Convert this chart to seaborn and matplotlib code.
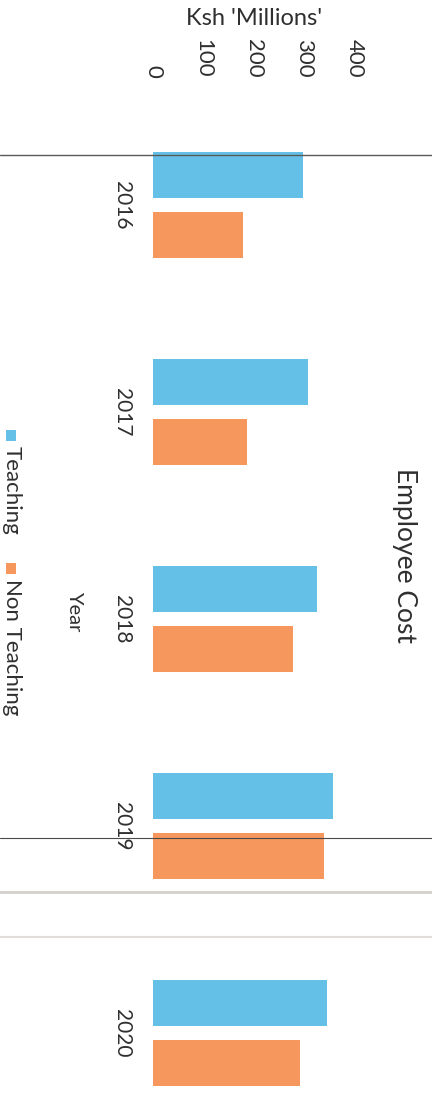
import matplotlib
matplotlib.use("Agg")
import matplotlib.pyplot as plt
from matplotlib.lines import Line2D
from matplotlib.patches import Rectangle
import seaborn as sns
import pandas as pd

# --- data -------------------------------------------------------------
years = ["2016", "2017", "2018", "2019", "2020"]
series = ["Teaching", "Non Teaching"]
teaching = [298, 307, 325, 356, 345]
non_teaching = [178, 187, 278, 339, 291]
value_ticks = [0, 100, 200, 300, 400]

colors = {"Teaching": "#65C0E8", "Non Teaching": "#F6985E"}

df = pd.DataFrame({
    "Year": years * 2,
    "Cost": teaching + non_teaching,
    "Staff": [series[0]] * len(years) + [series[1]] * len(years),
})

# --- style ------------------------------------------------------------
sns.set_theme(style="white")
plt.rcParams["font.family"] = ["Lato", "DejaVu Sans"]
TXT = "#2f2f2f"

W, H = 432, 1107
fig = plt.figure(figsize=(W / 100, H / 100), dpi=100)

# page is printed sideways: value axis runs left->right, years run top->bottom
ax_left, ax_right, ax_top = 153.3, 354.7, 101.5
ax = fig.add_axes([ax_left / W, 0, (ax_right - ax_left) / W, (H - ax_top) / H])

sns.barplot(
    data=df, y="Year", x="Cost", hue="Staff", hue_order=series,
    orient="y", palette=colors, saturation=1, width=0.575, gap=0.22,
    linewidth=0, errorbar=None, legend=False, ax=ax,
)

# category band of 207 px, first band starts at the axes top
band = 207.0
ax.set_ylim(-0.5 + (H - ax_top) / band, -0.5)
ax.set_xlim(0, 400)
ax.set_xticks(value_ticks)
ax.set_xticklabels([str(v) for v in value_ticks])

for s in ax.spines.values():
    s.set_visible(False)

# value axis on top, labels turned with the page
ax.xaxis.tick_top()
ax.xaxis.set_label_position("top")
ax.tick_params(axis="x", length=0, pad=17, labelsize=16, labelcolor=TXT,
               labelrotation=-90)
ax.set_xlabel("Ksh 'Millions'", fontsize=17, color=TXT, labelpad=10)

ax.tick_params(axis="y", length=0, pad=15, labelsize=15, labelcolor=TXT,
               labelrotation=-90)
for lbl in ax.get_yticklabels():
    lbl.set_verticalalignment("center")

ax.set_ylabel("Year", fontsize=14.5, color=TXT, rotation=-90,
              va="center", ha="center", rotation_mode="default")
ax.yaxis.set_label_coords((75 - ax_left) / (ax_right - ax_left),
                          (H - 611) / (H - ax_top))

# title on the right edge, reading downwards
fig.text(405 / W, 1 - 556 / H, "Employee Cost", rotation=-90,
         ha="center", va="center", fontsize=19, color=TXT)

# legend along the left edge
legend_starts = [430, 563]
for name, y0 in zip(series, legend_starts):
    fig.add_artist(Rectangle((6 / W, 1 - (y0 + 11) / H), 10 / W, 11 / H,
                             transform=fig.transFigure,
                             facecolor=colors[name], edgecolor="none"))
    fig.text(12 / W, 1 - (y0 + 16) / H, name, rotation=-90,
             ha="center", va="top", fontsize=16, color=TXT)

# fold and page-edge lines across the sheet
for y, c, lw in [(155, "#5a5a5a", 1.0), (838, "#4a4a4a", 0.8),
                 (892, "#d4cfcb", 2.0), (937, "#e2dedb", 1.5)]:
    fig.add_artist(Line2D([0, 1], [1 - y / H, 1 - y / H],
                          transform=fig.transFigure, color=c, lw=lw,
                          zorder=10))

fig.savefig("out.png", dpi=100)
